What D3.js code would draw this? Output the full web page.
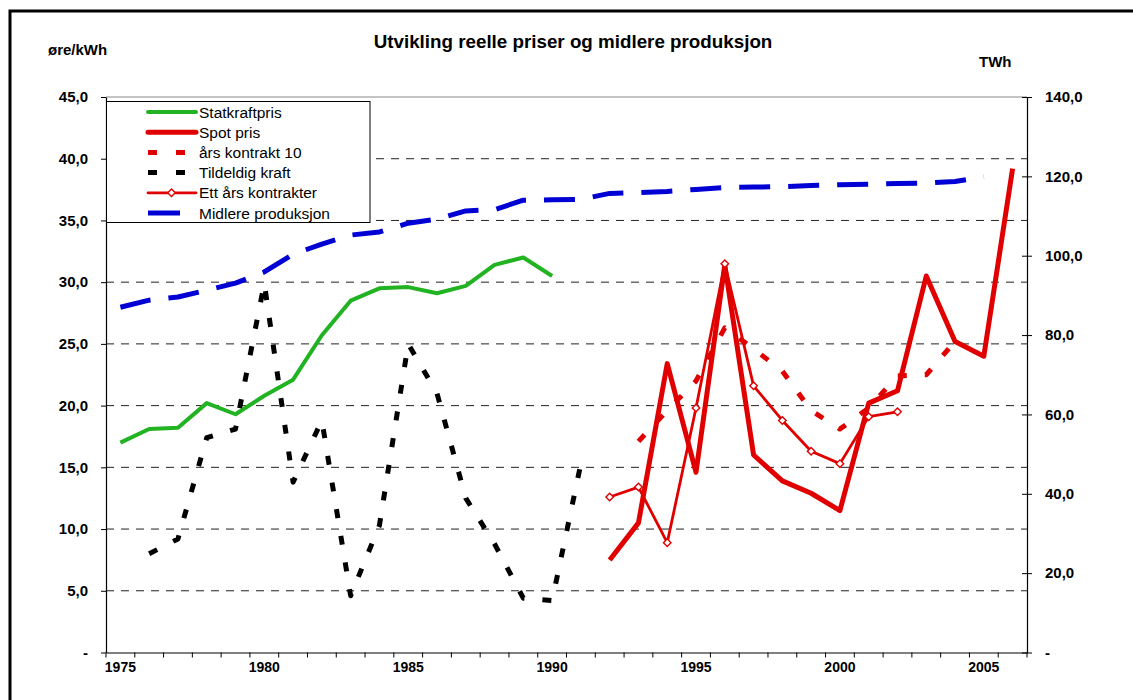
<!DOCTYPE html>
<html>
<head>
<meta charset="utf-8">
<script src="https://cdn.jsdelivr.net/npm/d3@7"></script>
<style>
  body { margin: 0; background: #fff; }
  svg { display: block; font-family: Arial, "Liberation Sans", sans-serif; }
</style>
</head>
<body>
<svg id="chart" width="1133" height="700"></svg>
<script>
// Values; null = no value that year
const years = [1975, 1976, 1977, 1978, 1979, 1980, 1981, 1982, 1983, 1984, 1985, 1986, 1987, 1988, 1989, 1990,
               1991, 1992, 1993, 1994, 1995, 1996, 1997, 1998, 1999, 2000, 2001, 2002, 2003, 2004, 2005, 2006];
const yearLabels = [1975, 1980, 1985, 1990, 1995, 2000, 2005];

// øre/kWh (left axis)
const statkraftpris = [17.0, 18.1, 18.2, 20.2, 19.3, 20.8, 22.1, 25.7, 28.5, 29.5, 29.6, 29.1, 29.7, 31.4, 32.0, 30.5,
                       null, null, null, null, null, null, null, null, null, null, null, null, null, null, null, null];
const spotPris = [null, null, null, null, null, null, null, null, null, null, null, null, null, null, null, null,
                  null, 7.5, 10.5, 23.4, 14.6, 31.4, 16.0, 13.9, 12.9, 11.5, 20.2, 21.2, 30.5, 25.2, 24.0, 39.2];
const kontrakt10 = [null, null, null, null, null, null, null, null, null, null, null, null, null, null, null, null,
                    null, null, 17.1, 19.6, 22.0, 26.3, 24.6, 22.8, 19.6, 18.1, 19.8, 22.4, 22.5, 25.2, null, null];
const tildeldigKraft = [null, 8.0, 9.2, 17.4, 18.1, 29.9, 13.8, 18.8, 4.6, 10.3, 25.0, 21.0, 12.5, 8.8, 4.4, 4.2,
                        15.3, null, null, null, null, null, null, null, null, null, null, null, null, null, null, null];
const ettArsKontrakter = [null, null, null, null, null, null, null, null, null, null, null, null, null, null, null, null,
                          null, 12.6, 13.4, 8.9, 19.8, 31.5, 21.6, 18.8, 16.3, 15.3, 19.1, 19.5, null, null, null, null];
// TWh (right axis)
const midlereProduksjon = [87.0, 88.8, 89.6, 91.3, 93.1, 95.9, 100.4, 102.9, 105.2, 106.0, 108.2, 109.2, 111.3, 111.6, 114.0, 114.1,
                           114.2, 115.7, 115.9, 116.2, 116.7, 117.2, 117.3, 117.4, 117.7, 117.9, 118.0, 118.2, 118.3, 118.7, 119.9, null];

const leftTicks = [0, 5, 10, 15, 20, 25, 30, 35, 40, 45];
const rightTicks = [0, 20, 40, 60, 80, 100, 120, 140];

const GREEN = "#22b322", RED = "#e00000", BLUE = "#0000d4", BLACK = "#000";

const W = 1133, H = 700;
const P = { left: 106, right: 1027, top: 97, bottom: 652.5 };

const svg = d3.select("#chart");
svg.append("rect").attr("width", W).attr("height", H).attr("fill", "#fff");

// outer frame (runs off the right/bottom of the picture)
svg.append("rect").attr("x", 10).attr("y", 11).attr("width", W + 20).attr("height", H + 20)
  .attr("fill", "none").attr("stroke", "#000").attr("stroke-width", 3);

const x = d3.scaleBand().domain(years).range([P.left, P.right]);
const cx = yr => x(yr) + x.bandwidth() / 2;
const yL = d3.scaleLinear().domain([0, 45]).range([P.bottom, P.top]);
const yR = d3.scaleLinear().domain([0, 140]).range([P.bottom, P.top]);
const fmt = v => v === 0 ? "-" : d3.format(".1f")(v).replace(".", ",");

// titles
svg.append("text").attr("x", 573).attr("y", 48).attr("text-anchor", "middle")
  .attr("font-size", "18.8px").attr("font-weight", "bold").text("Utvikling reelle priser og midlere produksjon");
svg.append("text").attr("x", 48).attr("y", 55).attr("font-size", "15px").attr("font-weight", "bold").text("øre/kWh");
svg.append("text").attr("x", 979).attr("y", 67).attr("font-size", "15px").attr("font-weight", "bold").text("TWh");

// gridlines
svg.append("g").selectAll("line").data(leftTicks.filter(v => v > 0 && v < 45)).join("line")
  .attr("x1", P.left).attr("x2", P.right).attr("y1", d => yL(d)).attr("y2", d => yL(d))
  .attr("stroke", "#222").attr("stroke-width", 1).attr("stroke-dasharray", "8,7");
svg.append("line").attr("x1", P.left).attr("x2", P.right).attr("y1", P.top).attr("y2", P.top)
  .attr("stroke", "#888").attr("stroke-width", 1);

// left axis
const axL = svg.append("g").attr("transform", `translate(${P.left},0)`)
  .call(d3.axisLeft(yL).tickValues(leftTicks).tickSize(5).tickSizeOuter(0).tickPadding(13).tickFormat(fmt));
// right axis
const axR = svg.append("g").attr("transform", `translate(${P.right},0)`)
  .call(d3.axisRight(yR).tickValues(rightTicks).tickSize(5).tickSizeOuter(0).tickPadding(13).tickFormat(fmt));
axR.selectAll(".tick line").attr("x1", -5);
// bottom axis: labels at category centres, ticks on category boundaries
const axB = svg.append("g").attr("transform", `translate(0,${P.bottom})`)
  .call(d3.axisBottom(x).tickValues(yearLabels).tickSize(0).tickSizeOuter(0).tickPadding(10));
axB.selectAll(".tick line").remove();
axB.append("g").selectAll("line").data(years.map(y => x(y)).concat([P.right])).join("line")
  .attr("x1", d => d).attr("x2", d => d).attr("y1", 0).attr("y2", 5).attr("stroke", "#000");

for (const ax of [axL, axR, axB]) {
  ax.attr("font-family", null);
  ax.select(".domain").attr("stroke", "#000").attr("stroke-width", 1.2);
  ax.selectAll(".tick line").attr("stroke", "#000");
  ax.selectAll("text").attr("font-size", "15px").attr("font-weight", "bold").attr("fill", "#000");
}
axB.selectAll("text").attr("font-size", "14px");

// series
const rows = vals => years.map((yr, i) => ({ yr, v: vals[i] }));
const line = scale => d3.line().defined(d => d.v != null).x(d => cx(d.yr)).y(d => scale(d.v));
const plot = svg.append("g");
function addLine(vals, scale, color, width, dash) {
  plot.append("path").datum(rows(vals)).attr("d", line(scale))
    .attr("fill", "none").attr("stroke", color).attr("stroke-width", width)
    .attr("stroke-dasharray", dash).attr("stroke-linejoin", "round");
}
addLine(statkraftpris, yL, GREEN, 4, null);
addLine(spotPris, yL, RED, 5, null);
addLine(kontrakt10, yL, RED, 5, "9,18");
addLine(tildeldigKraft, yL, BLACK, 5, "9,18");
addLine(ettArsKontrakter, yL, RED, 2.8, null);
const diamond = d3.symbol().type(d3.symbolDiamond2).size(36);
plot.append("g").selectAll("path").data(rows(ettArsKontrakter).filter(d => d.v != null)).join("path")
  .attr("d", diamond).attr("transform", d => `translate(${cx(d.yr)},${yL(d.v)})`)
  .attr("fill", "#fff").attr("stroke", RED).attr("stroke-width", 1.4);
addLine(midlereProduksjon, yR, BLUE, 5, "31,18");

// legend
const legendItems = [
  { label: "Statkraftpris", color: GREEN, width: 4, dash: null },
  { label: "Spot pris", color: RED, width: 5, dash: null },
  { label: "års kontrakt 10", color: RED, width: 5, dash: "9,19" },
  { label: "Tildeldig kraft", color: BLACK, width: 5, dash: "9,19" },
  { label: "Ett års kontrakter", color: RED, width: 2.8, dash: null, marker: true },
  { label: "Midlere produksjon", color: BLUE, width: 5, dash: "32,40" },
];
const lg = svg.append("g");
lg.append("rect").attr("x", 106.5).attr("y", 101.5).attr("width", 263.5).attr("height", 121)
  .attr("fill", "#fff").attr("stroke", "#000").attr("stroke-width", 1);
legendItems.forEach((it, i) => {
  const yy = 112 + i * 20.2;
  lg.append("line").attr("x1", 148).attr("x2", 196).attr("y1", yy).attr("y2", yy)
    .attr("stroke", it.color).attr("stroke-width", it.width).attr("stroke-dasharray", it.dash)
    .attr("stroke-linecap", it.dash ? "butt" : "round");
  if (it.marker) {
    lg.append("path").attr("d", diamond).attr("transform", `translate(171.5,${yy})`)
      .attr("fill", "#fff").attr("stroke", it.color).attr("stroke-width", 1.4);
  }
  lg.append("text").attr("x", 199).attr("y", yy).attr("dy", "0.36em")
    .attr("font-size", "15.5px").text(it.label);
});
</script>
</body>
</html>
